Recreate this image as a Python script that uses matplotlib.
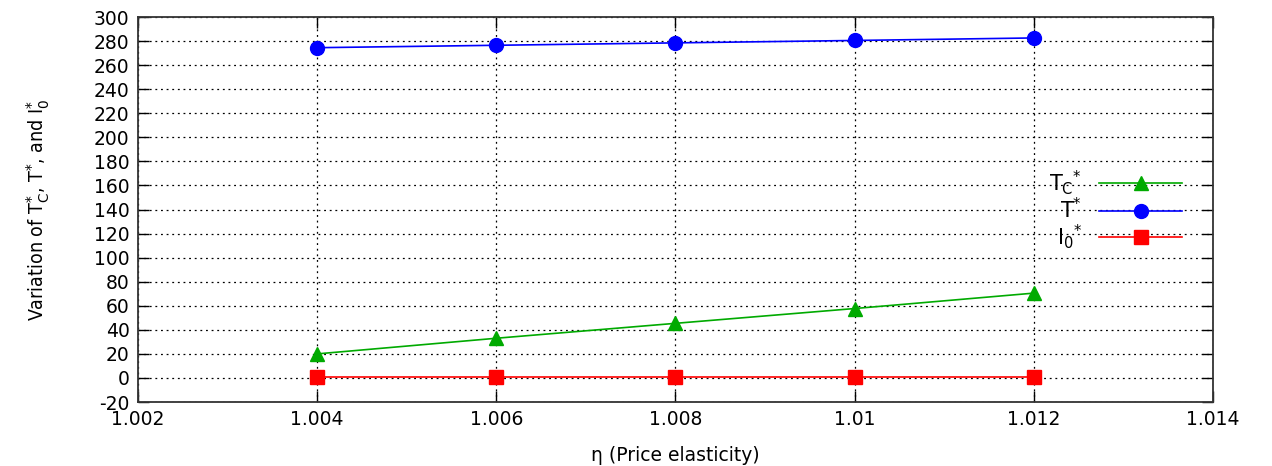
import matplotlib
matplotlib.use("Agg")
import matplotlib.pyplot as plt

# price elasticity values
eta = [1.004, 1.006, 1.008, 1.010, 1.012]

# series
T_c = [20.0, 33.0, 45.4, 57.7, 70.5]
T_star = [274.5, 276.5, 278.5, 280.5, 282.6]
I_0 = [1.0, 1.0, 1.0, 1.0, 1.0]

x_ticks = [1.002, 1.004, 1.006, 1.008, 1.010, 1.012, 1.014]
x_tick_labels = ["1.002", "1.004", "1.006", "1.008", "1.01", "1.012", "1.014"]
y_ticks = list(range(-20, 301, 20))

plt.rcParams["font.family"] = ["DejaVu Sans"]
plt.rcParams["mathtext.fontset"] = "dejavusans"
plt.rcParams["axes.unicode_minus"] = False

fig = plt.figure(figsize=(12.72, 4.66), dpi=100)
ax = fig.add_axes([0.1085, 0.1373, 0.845, 0.8262])

ax.plot(eta, T_c, color="#00aa00", marker="^", markersize=10, linewidth=1.2,
        label=r"T$_{\mathrm{C}}$$^{*}$")
ax.plot(eta, T_star, color="#0000ff", marker="o", markersize=10, linewidth=1.2,
        label=r"T$^{*}$")
ax.plot(eta, I_0, color="#ff0000", marker="s", markersize=10, linewidth=1.2,
        label=r"I$_{0}$$^{*}$")

ax.set_xlim(1.002, 1.014)
ax.set_ylim(-20, 300)
ax.set_xticks(x_ticks)
ax.set_xticklabels(x_tick_labels)
ax.set_yticks(y_ticks)

ax.grid(True, color="black", linestyle=(0, (1.5, 3)), linewidth=0.9)
ax.tick_params(direction="in", length=8, width=1, top=True, right=True,
               labelsize=13.5, pad=6)
for s in ax.spines.values():
    s.set_linewidth(1.3)
    s.set_color("#333333")

ax.set_xlabel("η (Price elasticity)", fontsize=13.5, labelpad=12)
ax.set_ylabel(r"Variation of T$_{\mathrm{C}}^{*}$, T$^{*}$, and I$_{0}^{*}$",
              fontsize=14, fontstretch="condensed", labelpad=30)

leg = ax.legend(loc="center right", bbox_to_anchor=(0.989, 0.50), frameon=False,
                markerfirst=False, fontsize=15, handlelength=4.0,
                labelspacing=0.0, handletextpad=0.8)
for t in leg.get_texts():
    t.set_ha("right")
leg.set_zorder(5)

fig.savefig("out.png", dpi=100)
